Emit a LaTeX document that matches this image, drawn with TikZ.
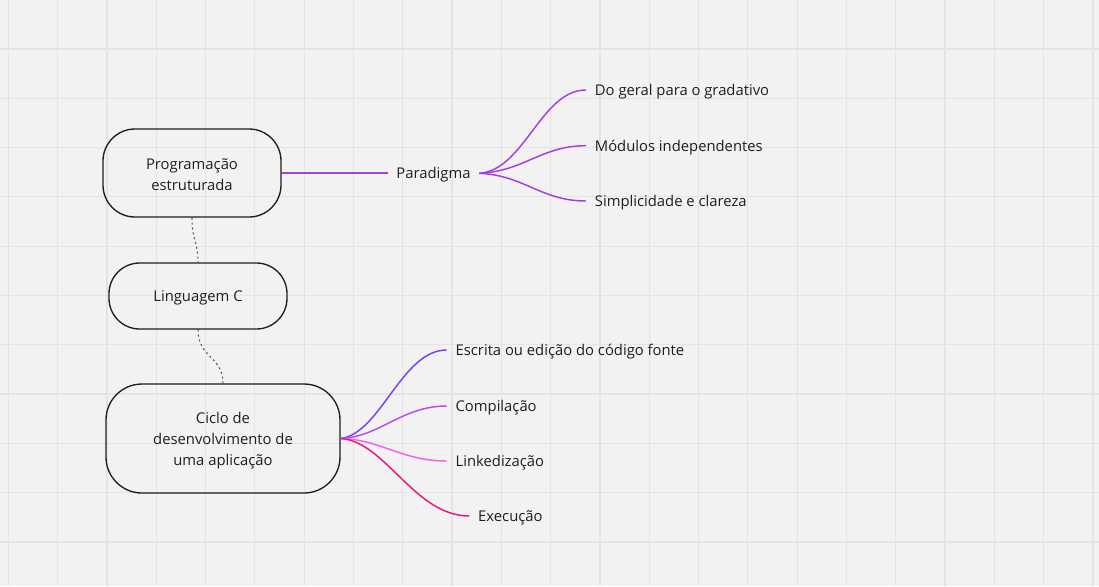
\documentclass[tikz,border=0pt]{standalone}
\usepackage{fontspec}
\setmainfont{Open Sans}
\definecolor{bg}{HTML}{F2F2F2}
\definecolor{gridc}{HTML}{E4E4E4}
\definecolor{ink}{HTML}{1E1E1E}
\definecolor{cpar}{HTML}{A23FE6}
\definecolor{cesc}{HTML}{7B3FF5}
\definecolor{ccomp}{HTML}{B54CF5}
\definecolor{clink}{HTML}{F560EE}
\definecolor{cexec}{HTML}{F0167A}
\definecolor{cdash}{HTML}{555555}
\newcommand\lowtxt[1]{\raisebox{-1.5pt}[\height][\depth]{#1}}
\begin{document}
\begin{tikzpicture}[x=0.75pt,y=-0.75pt,
  font=\fontsize{11.1}{15.75}\selectfont,
  topic/.style={draw=ink,line width=1pt,rounded corners=#1,align=center,text=ink,inner sep=0pt},
  leaf/.style={anchor=west,inner xsep=6.5pt,inner ysep=2pt,text=ink},
  branch/.style={line width=1.1pt},
  link/.style={draw=cdash,line width=0.8pt,dash pattern=on 1.5pt off 2.2pt}]
\useasboundingbox (0,0) rectangle (1099,586);
\fill[bg] (0,0) rectangle (1099,586);
\foreach \i in {0,...,22} {\draw[gridc,line width=0.9pt] ({8.3+49.3*\i},0) -- ({8.3+49.3*\i},586);}
\foreach \j in {1,...,11} {\draw[gridc,line width=0.9pt] (0,{49.3*\j-0.4}) -- (1099,{49.3*\j-0.4});}

\node[topic=24pt,minimum width=133.5pt,minimum height=66pt] (prog) at (192,173) {\lowtxt{Programação}\\\lowtxt{estruturada}};
\node[topic=23pt,minimum width=133.5pt,minimum height=49.5pt] (ling) at (198,296) {\lowtxt{Linguagem C}};
\node[topic=27pt,minimum width=175.5pt,minimum height=81.75pt] (ciclo) at (223,438.5) {\lowtxt{Ciclo de}\\\lowtxt{desenvolvimento de}\\\lowtxt{uma aplicação}};

\node[anchor=center,inner xsep=6.5pt,text=ink] (par) at (433.5,173) {\lowtxt{Paradigma}};
\coordinate (paro) at (479.3,173.3);

\node[leaf] (d1) at (586,90) {\lowtxt{Do geral para o gradativo}};
\node[leaf] (d2) at (586,145.7) {\lowtxt{Módulos independentes}};
\node[leaf] (d3) at (586,201) {\lowtxt{Simplicidade e clareza}};

\node[leaf] (e1) at (446.7,350) {\lowtxt{Escrita ou edição do código fonte}};
\node[leaf] (e2) at (446.7,406) {\lowtxt{Compilação}};
\node[leaf] (e3) at (446.7,461) {\lowtxt{Linkedização}};
\node[leaf] (e4) at (469.3,516) {\lowtxt{Execução}};

\draw[branch,cpar] (prog.east) -- (par.west);
\draw[branch,cpar] (paro) .. controls +(45,-3) and +(-45,0) .. (d1.west);
\draw[branch,cpar] (paro) .. controls +(45,-2) and +(-45,0) .. (d2.west);
\draw[branch,cpar] (paro) .. controls +(45,2) and +(-45,0) .. (d3.west);

\draw[branch,cesc] (ciclo.east) .. controls +(40,-5) and +(-45,0) .. (e1.west);
\draw[branch,ccomp] (ciclo.east) .. controls +(40,-2) and +(-45,0) .. (e2.west);
\draw[branch,clink] (ciclo.east) .. controls +(40,1) and +(-45,0) .. (e3.west);
\draw[branch,cexec] (ciclo.east) .. controls +(45,3) and +(-55,0) .. (e4.west);

\draw[link] (prog.south) .. controls (192,242) and (198,240) .. (ling.north);
\draw[link] (ling.south) .. controls (198,358) and (223,356) .. (ciclo.north);
\end{tikzpicture}
\end{document}
